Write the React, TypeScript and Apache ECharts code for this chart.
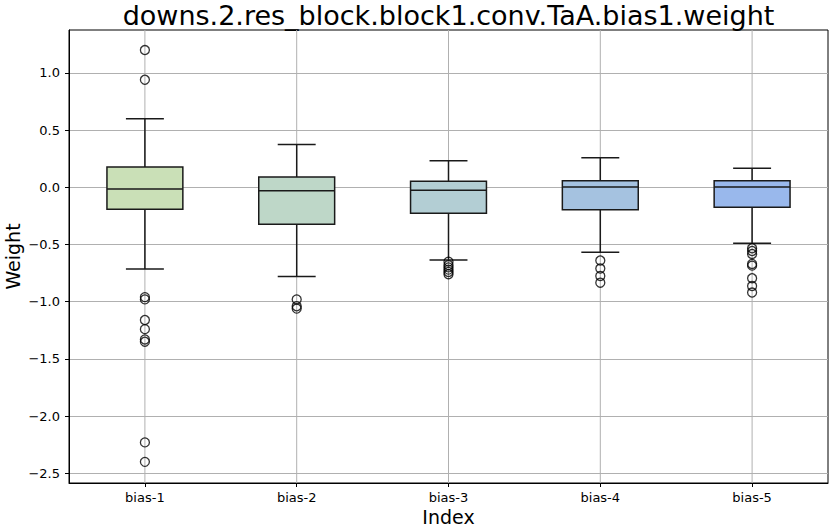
import React, { useEffect, useRef } from 'react';
import * as echarts from 'echarts';

const categories = ['bias-1', 'bias-2', 'bias-3', 'bias-4', 'bias-5'];
const whiskerLow = [-0.714, -0.78, -0.635, -0.568, -0.49];
const q1 = [-0.192, -0.323, -0.227, -0.196, -0.175];
const median = [-0.016, -0.03, -0.026, 0.003, 0.003];
const q3 = [0.177, 0.09, 0.052, 0.058, 0.058];
const whiskerHigh = [0.6, 0.373, 0.233, 0.259, 0.166];
const outliers = [
  [1.2, 0.94, -0.96, -0.98, -1.16, -1.24, -1.33, -1.35, -2.23, -2.4],
  [-0.98, -1.04, -1.06],
  [-0.65, -0.68, -0.7, -0.72, -0.74, -0.76],
  [-0.64, -0.71, -0.775, -0.834],
  [-0.533, -0.557, -0.583, -0.67, -0.685, -0.795, -0.863, -0.92],
];
const boxColors = ['#cae0b7', '#bed7c8', '#b3ced4', '#a5c2e0', '#99b8ec'];
const yTicks = [-2.5, -2.0, -1.5, -1.0, -0.5, 0.0, 0.5, 1.0];
const titleText = 'downs.2.res_block.block1.conv.TaA.bias1.weight';

const FONT = 'DejaVu Sans';

export default function App() {
  const ref = useRef<HTMLDivElement>(null);
  useEffect(() => {
    if (!ref.current) return;
    const chart = echarts.init(ref.current, null, { renderer: 'svg' });
    const boxData = categories.map((_, i) => [i, whiskerLow[i], q1[i], median[i], q3[i], whiskerHigh[i]]);
    const outData: number[][] = [];
    outliers.forEach((arr, i) => arr.forEach((v) => outData.push([i, v])));
    const vgrid = categories.map((_, i) => [i, 0]);
    const edge = '#1a1a1a';
    chart.setOption({
      animation: false,
      backgroundColor: '#fff',
      graphic: [
        {
          type: 'text',
          x: 448.5,
          y: 15,
          style: {
            text: titleText,
            fontFamily: FONT,
            fontSize: 27,
            fill: '#000',
            textAlign: 'center',
            textVerticalAlign: 'middle',
          },
        },
      ],
      grid: {
        left: 69,
        top: 30,
        width: 759,
        height: 453,
        containLabel: false,
        outerBoundsMode: 'none',
        show: true,
        borderColor: '#000',
        borderWidth: 1,
        backgroundColor: 'transparent',
      },
      xAxis: {
        type: 'category',
        data: categories,
        boundaryGap: true,
        axisLine: { show: true, onZero: false, lineStyle: { color: '#000', width: 1 } },
        axisTick: { show: true, alignWithLabel: true, length: 4, lineStyle: { color: '#000' } },
        axisLabel: { color: '#000', fontSize: 13, fontFamily: FONT, margin: 8 },
        splitLine: { show: false },
        name: 'Index',
        nameLocation: 'middle',
        nameGap: 24,
        nameMoveOverlap: false,
        nameTextStyle: { fontSize: 19, color: '#000', fontFamily: FONT, lineHeight: 19 },
      },
      yAxis: {
        type: 'value',
        min: -2.585,
        max: 1.375,
        splitNumber: 8,
        axisLine: { show: true, onZero: false, lineStyle: { color: '#000', width: 1 } },
        axisTick: { show: true, length: 4, lineStyle: { color: '#000' }, customValues: yTicks },
        axisLabel: {
          color: '#000',
          fontSize: 13,
          fontFamily: FONT,
          margin: 9,
          customValues: yTicks,
          formatter: (v: number) => v.toFixed(1).replace('-', '\u2212'),
        },
        splitLine: { show: true, lineStyle: { color: '#b0b0b0', width: 1 } },
        name: 'Weight',
        nameLocation: 'middle',
        nameGap: 47,
        nameMoveOverlap: false,
        nameTextStyle: { fontSize: 19, color: '#000', fontFamily: FONT, lineHeight: 19 },
      },
      series: [
        {
          type: 'custom',
          z: 1,
          data: vgrid,
          encode: { x: 0, y: 1 },
          renderItem: (params: any, api: any) => {
            const p = api.coord([api.value(0), 0]);
            const cs = params.coordSys;
            return {
              type: 'line',
              shape: { x1: p[0], y1: cs.y, x2: p[0], y2: cs.y + cs.height },
              style: { stroke: '#b0b0b0', lineWidth: 1 },
            };
          },
        },
        {
          type: 'custom',
          z: 3,
          data: boxData,
          encode: { x: 0, y: [1, 2, 3, 4, 5] },
          renderItem: (params: any, api: any) => {
            const i = api.value(0);
            const pLow = api.coord([i, api.value(1)]);
            const pQ1 = api.coord([i, api.value(2)]);
            const pMed = api.coord([i, api.value(3)]);
            const pQ3 = api.coord([i, api.value(4)]);
            const pHigh = api.coord([i, api.value(5)]);
            const bw = api.size([1, 0])[0] * 0.5;
            const cw = bw * 0.5;
            const x = pLow[0];
            const ls = { stroke: edge, lineWidth: 1.5 };
            return {
              type: 'group',
              children: [
                { type: 'line', shape: { x1: x, y1: pLow[1], x2: x, y2: pQ1[1] }, style: ls },
                { type: 'line', shape: { x1: x, y1: pQ3[1], x2: x, y2: pHigh[1] }, style: ls },
                { type: 'line', shape: { x1: x - cw / 2, y1: pLow[1], x2: x + cw / 2, y2: pLow[1] }, style: ls },
                { type: 'line', shape: { x1: x - cw / 2, y1: pHigh[1], x2: x + cw / 2, y2: pHigh[1] }, style: ls },
                {
                  type: 'rect',
                  shape: { x: x - bw / 2, y: pQ3[1], width: bw, height: pQ1[1] - pQ3[1] },
                  style: { fill: boxColors[params.dataIndex], stroke: edge, lineWidth: 1.5 },
                },
                { type: 'line', shape: { x1: x - bw / 2, y1: pMed[1], x2: x + bw / 2, y2: pMed[1] }, style: ls },
              ],
            };
          },
        },
        {
          type: 'scatter',
          z: 4,
          data: outData,
          symbol: 'circle',
          symbolSize: 9,
          itemStyle: { color: 'rgba(0,0,0,0)', borderColor: '#000', borderWidth: 1.3 },
        },
      ],
    });
    return () => chart.dispose();
  }, []);
  return <div ref={ref} style={{ position: 'fixed', left: 0, top: 0, width: 831, height: 528 }} />;
}
